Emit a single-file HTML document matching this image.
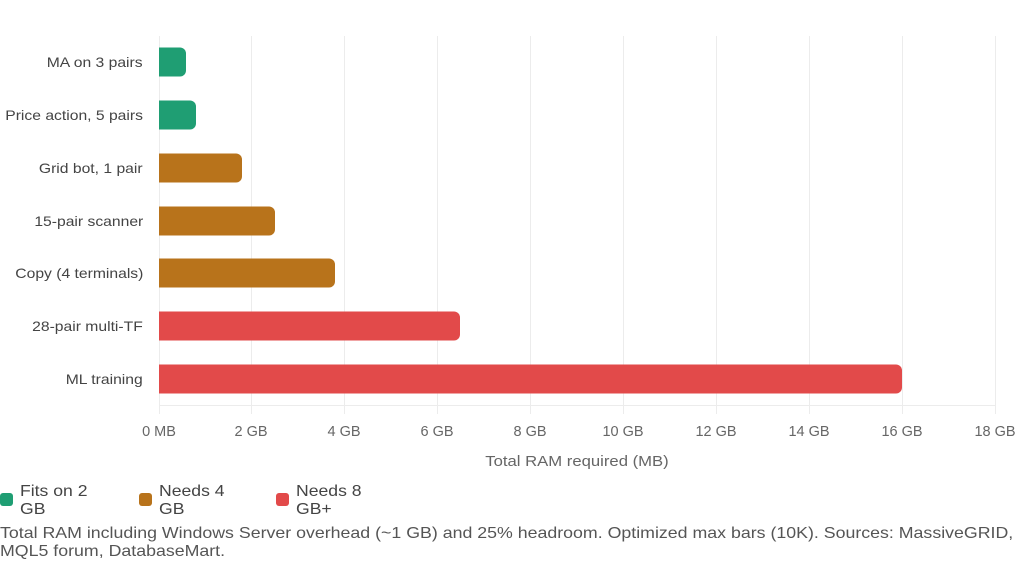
<!DOCTYPE html>
<html><head><style>
body{margin:0;width:1024px;height:587px;background:#fff;font-family:"Liberation Sans",sans-serif;position:relative;overflow:hidden}
.a{position:absolute}
.lbl{position:absolute;right:881px;font-size:14px;color:#444;white-space:nowrap;transform:translateY(-50%) scaleX(1.12);transform-origin:right center}
.bar{position:absolute;left:159px;height:29px;border-radius:0 6px 6px 0;transform:translateY(-50%)}
.g{position:absolute;top:36px;height:378px;width:1px;background:#ececec}
.t{position:absolute;top:424px;font-size:14.5px;color:#666;transform:translateX(-50%);white-space:nowrap}
.lg{position:absolute;top:483px;font-size:16px;color:#444;line-height:18px;transform:scaleX(1.1);transform-origin:left top;white-space:nowrap}
.sw{position:absolute;top:493px;width:13px;height:13px;border-radius:3px}
</style></head><body>
<div class="g" style="left:159px"></div><div class="g" style="left:251px"></div><div class="g" style="left:344px"></div><div class="g" style="left:437px"></div><div class="g" style="left:530px"></div><div class="g" style="left:623px"></div><div class="g" style="left:716px"></div><div class="g" style="left:809px"></div><div class="g" style="left:902px"></div><div class="g" style="left:995px"></div>
<div class="a" style="left:159px;top:405px;width:837px;height:1px;background:#ececec"></div>
<div class="lbl" style="top:62px">MA on 3 pairs</div><div class="bar" style="top:62px;width:27px;background:#1f9e73"></div>
<div class="lbl" style="top:115px">Price action, 5 pairs</div><div class="bar" style="top:115px;width:37px;background:#1f9e73"></div>
<div class="lbl" style="top:168px">Grid bot, 1 pair</div><div class="bar" style="top:168px;width:83px;background:#b8731b"></div>
<div class="lbl" style="top:221px">15-pair scanner</div><div class="bar" style="top:221px;width:116px;background:#b8731b"></div>
<div class="lbl" style="top:273px">Copy (4 terminals)</div><div class="bar" style="top:273px;width:176px;background:#b8731b"></div>
<div class="lbl" style="top:326px">28-pair multi-TF</div><div class="bar" style="top:326px;width:301px;background:#e24a4a"></div>
<div class="lbl" style="top:379px">ML training</div><div class="bar" style="top:379px;width:743px;background:#e24a4a"></div>
<div class="t" style="left:159px">0 MB</div><div class="t" style="left:251px">2 GB</div><div class="t" style="left:344px">4 GB</div><div class="t" style="left:437px">6 GB</div><div class="t" style="left:530px">8 GB</div><div class="t" style="left:623px">10 GB</div><div class="t" style="left:716px">12 GB</div><div class="t" style="left:809px">14 GB</div><div class="t" style="left:902px">16 GB</div><div class="t" style="left:995px">18 GB</div>
<div class="a" style="left:577px;top:454px;transform:translateX(-50%) scaleX(1.15);font-size:14.5px;color:#666;white-space:nowrap">Total RAM required (MB)</div>
<div class="sw" style="left:0;background:#1f9e73"></div><div class="lg" style="left:20px">Fits on 2<br>GB</div>
<div class="sw" style="left:139px;background:#b8731b"></div><div class="lg" style="left:159px">Needs 4<br>GB</div>
<div class="sw" style="left:276px;background:#e24a4a"></div><div class="lg" style="left:296px">Needs 8<br>GB+</div>
<div class="a" style="left:0;top:525px;font-size:16px;color:#555;line-height:18px;white-space:nowrap;transform:scaleX(1.11);transform-origin:left top">Total RAM including Windows Server overhead (~1 GB) and 25% headroom. Optimized max bars (10K). Sources: MassiveGRID,<br>MQL5 forum, DatabaseMart.</div>
</body></html>
